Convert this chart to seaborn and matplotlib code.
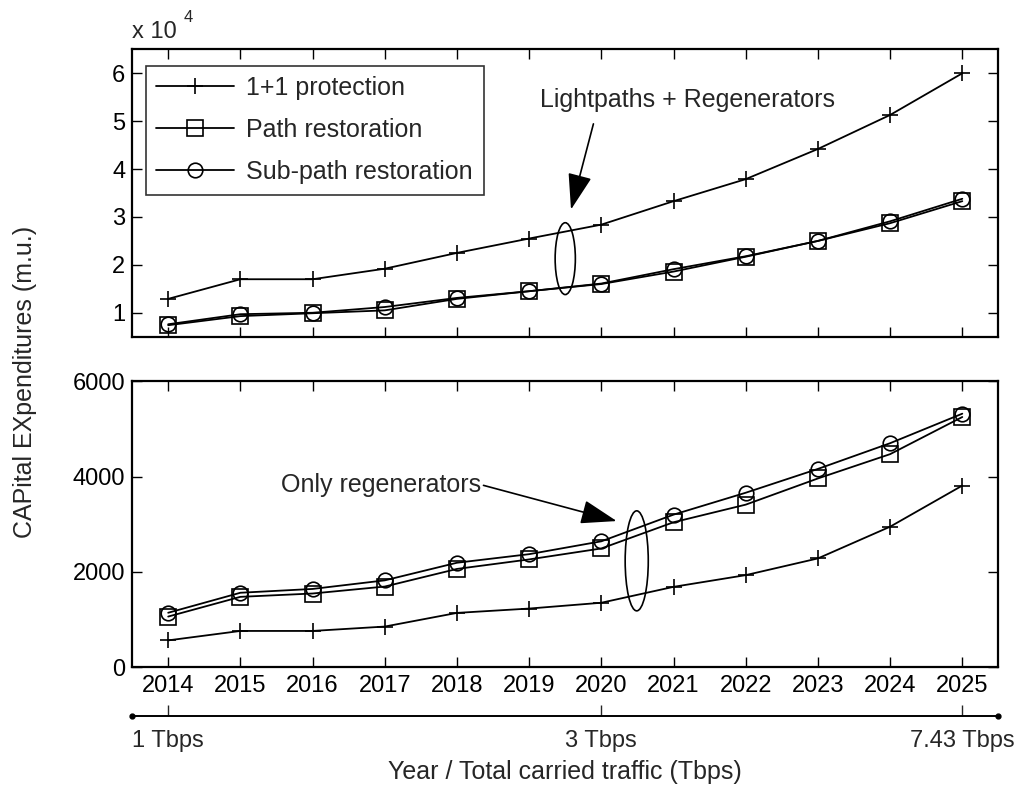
import numpy as np
import pandas as pd
import matplotlib
matplotlib.use("Agg")
import matplotlib.pyplot as plt
from matplotlib.patches import Ellipse
import seaborn as sns

years = [2014, 2015, 2016, 2017, 2018, 2019, 2020, 2021, 2022, 2023, 2024, 2025]
series_names = ["1+1 protection", "Path restoration", "Sub-path restoration"]

# Top panel: Lightpaths + Regenerators (x 10^4)
top_protection = [1.29, 1.70, 1.70, 1.92, 2.25, 2.55, 2.84, 3.33, 3.79, 4.42, 5.13, 6.00]
top_path = [0.74, 0.93, 0.99, 1.05, 1.29, 1.45, 1.60, 1.86, 2.17, 2.50, 2.87, 3.33]
top_subpath = [0.76, 0.97, 1.00, 1.12, 1.31, 1.45, 1.61, 1.91, 2.18, 2.50, 2.91, 3.38]

# Bottom panel: Only regenerators
bot_protection = [560, 758, 758, 850, 1137, 1228, 1350, 1684, 1930, 2281, 2947, 3810]
bot_path = [1060, 1474, 1544, 1690, 2060, 2260, 2490, 3040, 3410, 3960, 4470, 5250]
bot_subpath = [1140, 1560, 1640, 1820, 2190, 2370, 2640, 3200, 3660, 4160, 4700, 5320]

traffic_ticks = [2014, 2020, 2025]
traffic_labels = ["1 Tbps", "3 Tbps", "7.43 Tbps"]

sns.set_style("ticks")
plt.rcParams["font.family"] = ["Liberation Sans", "DejaVu Sans"]
plt.rcParams["font.size"] = 17

TICK_FS = 17
LABEL_FS = 18
LEG_FS = 18

fig = plt.figure(figsize=(10.24, 7.96), dpi=100)
ax1 = fig.add_axes([0.129, 0.577, 0.846, 0.361])
ax2 = fig.add_axes([0.129, 0.162, 0.846, 0.359])

markers = ["+", "s", "o"]
msizes = [12, 11, 10.5]

def draw(ax, vals):
    df = pd.DataFrame({"Year": years * 3,
                       "Value": sum(vals, []),
                       "Series": sum([[n] * len(years) for n in series_names], [])})
    for name, m, ms in zip(series_names, markers, msizes):
        sub = df[df["Series"] == name]
        sns.lineplot(data=sub, x="Year", y="Value", ax=ax, color="black", lw=1.3,
                     marker=m, markersize=ms, markerfacecolor="none",
                     markeredgecolor="black", markeredgewidth=1.2, label=name,
                     legend=False)

draw(ax1, [top_protection, top_path, top_subpath])
draw(ax2, [bot_protection, bot_path, bot_subpath])

for ax in (ax1, ax2):
    ax.set_xlim(2013.5, 2025.5)
    ax.set_xticks(years)
    ax.tick_params(direction="in", top=True, right=True, length=7, width=1,
                   labelsize=TICK_FS, colors="black", pad=5)
    for s in ax.spines.values():
        s.set_visible(True)
        s.set_linewidth(1.6)
        s.set_color("black")
    ax.set_xlabel("")
    ax.set_ylabel("")

ax1.set_ylim(0.5, 6.5)
ax1.set_yticks([1, 2, 3, 4, 5, 6])
ax1.set_xticklabels([])
ax2.set_ylim(0, 6000)
ax2.set_yticks([0, 2000, 4000, 6000])
ax2.set_xticklabels([str(y) for y in years])
ax2.tick_params(axis="x", pad=6)

leg = ax1.legend(loc="upper left", frameon=True, fancybox=False, handlelength=3.1,
                 handletextpad=0.5, borderpad=0.42, labelspacing=0.72,
                 fontsize=LEG_FS, borderaxespad=0,
                 bbox_to_anchor=(0.016, 0.943))
leg.get_frame().set_edgecolor("black")
leg.get_frame().set_linewidth(1.2)

# annotations top
ax1.add_patch(Ellipse((2019.5, 2.13), 0.28, 1.5, fill=False, ec="black", lw=1.2))
ax1.annotate("", xy=(2019.57, 3.1), xytext=(2019.9, 5.0),
             arrowprops=dict(arrowstyle="-|>,head_length=0.9,head_width=0.3",
                             color="black", lw=1.2, mutation_scale=25))
ax1.text(2021.2, 5.45, "Lightpaths + Regenerators", ha="center", va="center",
         fontsize=LABEL_FS)

# annotations bottom
ax2.add_patch(Ellipse((2020.49, 2230), 0.32, 2100, fill=False, ec="black", lw=1.2))
ax2.annotate("", xy=(2020.25, 3050), xytext=(2018.33, 3830),
             arrowprops=dict(arrowstyle="-|>,head_length=0.9,head_width=0.3",
                             color="black", lw=1.2, mutation_scale=25))
ax2.text(2018.33, 3830, "Only regenerators", ha="right", va="center",
         fontsize=LABEL_FS)

# secondary traffic axis
ax3 = fig.add_axes([0.129, 0.1005, 0.846, 0.0001])
ax3.set_xlim(2013.5, 2025.5)
ax3.set_yticks([])
for k in ("left", "right", "top"):
    ax3.spines[k].set_visible(False)
ax3.spines["bottom"].set_linewidth(1.4)
ax3.spines["bottom"].set_color("black")
ax3.patch.set_visible(False)
ax3.set_xticks(traffic_ticks)
ax3.set_xticklabels(traffic_labels)
ax3.tick_params(axis="x", direction="in", length=8, width=1, labelsize=TICK_FS, pad=10)
ax3.plot([0, 1], [0, 0], transform=ax3.transAxes, ls="none", marker="o",
         ms=3.5, color="black", clip_on=False)
ax3.set_xlabel("Year / Total carried traffic (Tbps)", fontsize=LABEL_FS, labelpad=6)

fig.text(0.129, 0.946, "x 10", fontsize=TICK_FS, ha="left", va="bottom")
fig.text(0.179, 0.968, "4", fontsize=12, ha="left", va="bottom")
fig.text(0.024, 0.52, "CAPital EXpenditures (m.u.)", rotation=90, ha="center",
         va="center", fontsize=LABEL_FS)

fig.savefig("out.png", dpi=100)
